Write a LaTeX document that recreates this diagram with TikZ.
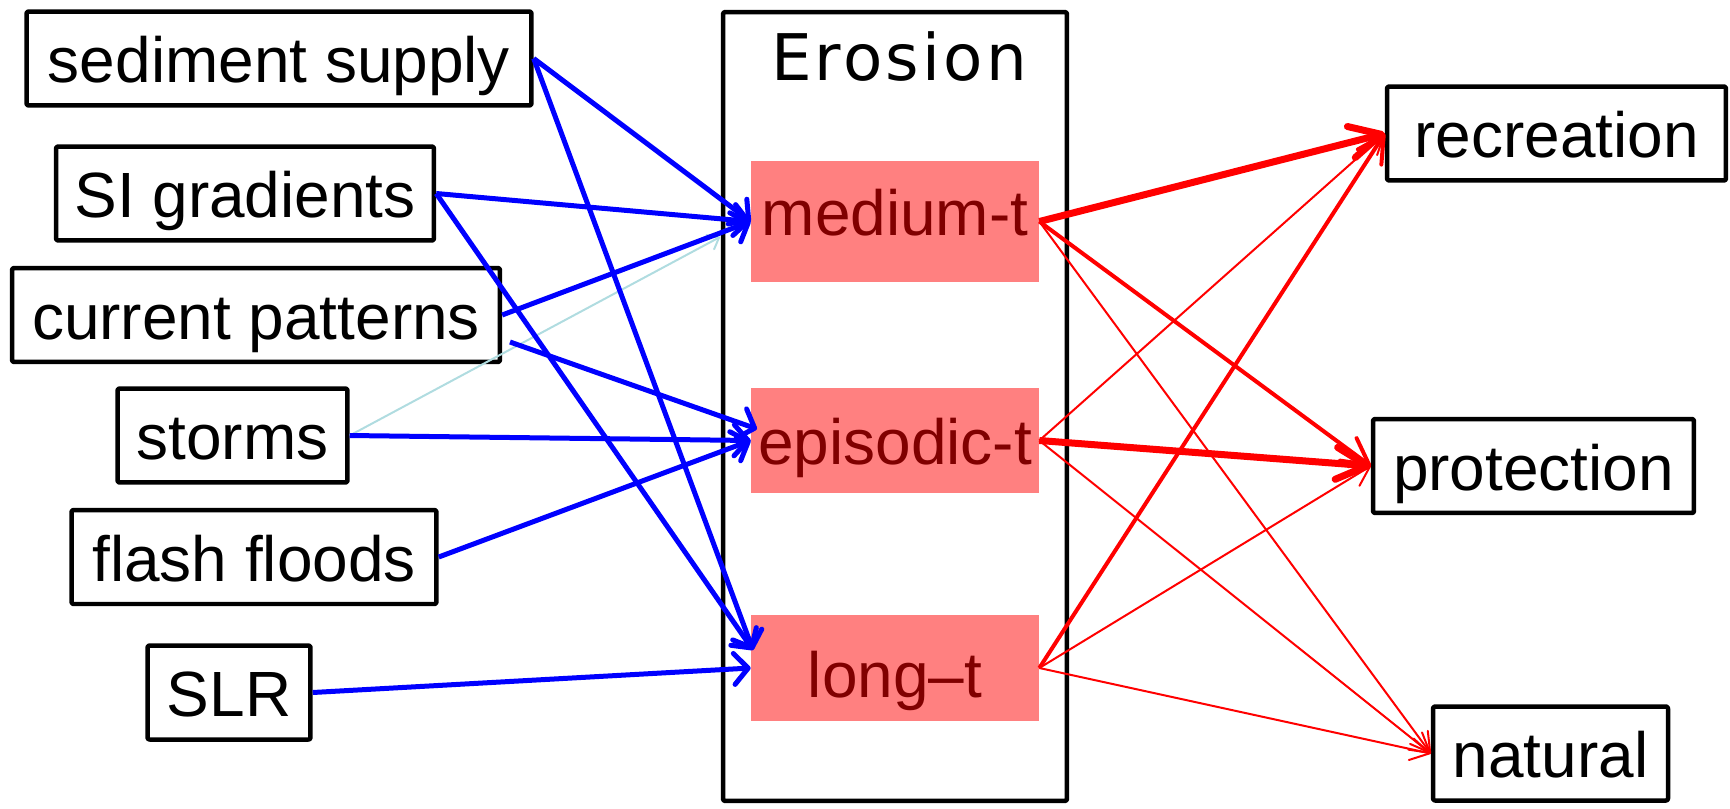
\documentclass[tikz,border=0pt]{standalone}
\usepackage{fontspec}
\setmainfont{Liberation Sans}
\newfontfamily\titlefont{DejaVu Sans}[LetterSpace=5]
\usetikzlibrary{arrows.meta}
\definecolor{boxpink}{HTML}{FF8080}
\definecolor{boxtext}{HTML}{800000}
\definecolor{paleblue}{HTML}{B0DCE0}
\begin{document}
\begin{tikzpicture}[x=0.02cm,y=-0.02cm,
  factor/.style={draw, line width=0.09cm, line join=round, rounded corners=0.04cm,
    fill=white, inner sep=0pt, font=\fontsize{36.4}{43}\selectfont,
    text height=1.1cm, text depth=0.14cm, minimum height=1.88cm},
  state/.style={fill=boxpink, text=boxtext, inner sep=0pt,
    font=\fontsize{36.4}{43}\selectfont, minimum width=5.76cm},
  drive/.style={draw=blue, line width=0.1cm,
    -{Straight Barb[length=0.28cm,width=0.62cm,round]}},
  weak/.style={draw=paleblue, line width=0.04cm,
    -{Straight Barb[length=0.2cm,width=0.32cm,round]}},
  effthin/.style={draw=red, line width=0.04cm,
    -{Straight Barb[length=0.38cm,width=0.44cm,round]}},
  effmid/.style={draw=red, line width=0.08cm,
    -{Straight Barb[length=0.52cm,width=0.56cm,round]}},
  effthick/.style={draw=red, line width=0.14cm,
    -{Straight Barb[length=0.62cm,width=0.64cm,round]}}]
\useasboundingbox (0,0) rectangle (1730,808);

% erosion frame and its title
\node[draw, line width=0.09cm, line join=round, rounded corners=0.04cm,
  inner sep=0pt, minimum width=6.88cm, minimum height=15.78cm] (frame) at (895,406.5) {};
\node[anchor=base, inner sep=0pt, font=\titlefont\fontsize{36.6}{44}\selectfont] (title) at (899,80) {Erosion};

% erosion time scales
\node[state, minimum height=2.42cm, text height=0.9cm, text depth=0.36cm] (med) at (895,221.5) {medium-t};
\node[state, minimum height=2.1cm, text height=1.1cm, text depth=0.16cm] (epi) at (895,440.5) {episodic-t};
\node[state, minimum height=2.12cm, text height=1.3cm, text depth=0.14cm] (lng) at (895,668) {long--t};

% drivers
\node[factor, minimum width=10.1cm] (sed) at (279,58.5) {sediment supply};
\node[factor, minimum width=7.56cm] (sig) at (245,193.5) {SI gradients};
\node[factor, minimum width=9.76cm] (cur) at (256,315) {current patterns};
\node[factor, minimum width=4.6cm] (sto) at (232.5,435.5) {storms};
\node[factor, minimum width=7.3cm] (fla) at (254,557) {flash floods};
\node[factor, minimum width=3.26cm] (slr) at (229,692.5) {SLR};

% uses
\node[factor, minimum width=6.78cm] (rec) at (1556.5,133.5) {recreation};
\node[factor, minimum width=6.42cm] (pro) at (1533.5,466) {protection};
\node[factor, minimum width=4.7cm] (nat) at (1550.5,753.5) {natural};

% free ends of some connectors
\coordinate (curlow) at (510,342);
\coordinate (epiup) at (757,429);
\coordinate (lngup) at (753,650);
\coordinate (medlow) at (720,237);

% drivers -> erosion
\draw[weak] (sto.east) -- (medlow);
\draw[drive] (sed.east) -- (med.west);
\draw[drive] (sed.east) -- (lngup);
\draw[drive] (sig.east) -- (med.west);
\draw[drive] (sig.east) -- (lngup);
\draw[drive] (cur.east) -- (med.west);
\draw[drive] (curlow) -- (epiup);
\draw[drive] (sto.east) -- (epi.west);
\draw[drive] (fla.east) -- (epi.west);
\draw[drive] (slr.east) -- (lng.west);

% erosion -> uses
\draw[effthin] (med.east) -- (nat.west);
\draw[effthin] (epi.east) -- (rec.west);
\draw[effthin] (epi.east) -- (nat.west);
\draw[effthin] (lng.east) -- (pro.west);
\draw[effthin] (lng.east) -- (nat.west);
\draw[effmid] (med.east) -- (pro.west);
\draw[effmid] (lng.east) -- (rec.west);
\draw[effthick] (med.east) -- (rec.west);
\draw[effthick] (epi.east) -- (pro.west);
\end{tikzpicture}
\end{document}
